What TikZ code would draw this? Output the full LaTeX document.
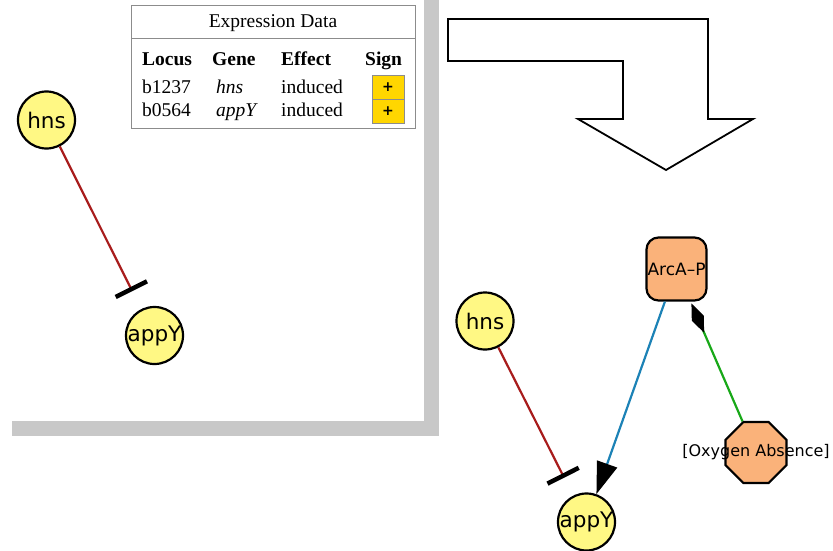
\documentclass[tikz,border=0pt]{standalone}
\usepackage{fontspec}
\setmainfont{Liberation Serif}
\newfontfamily\netfont{DejaVu Sans}
\usetikzlibrary{shapes.geometric, arrows.meta, positioning}
\definecolor{geneyellow}{RGB}{255,248,132}
\definecolor{complexorange}{RGB}{250,178,122}
\definecolor{signgold}{RGB}{255,214,0}
\definecolor{framegray}{RGB}{200,200,200}
\definecolor{repred}{RGB}{168,28,28}
\definecolor{actblue}{RGB}{28,130,182}
\definecolor{bindgreen}{RGB}{24,168,24}
\tikzset{
	gene/.style={circle, draw=black, line width=2.2pt, fill=geneyellow, minimum size=57pt, inner sep=0pt},
	complex/.style={rectangle, rounded corners=12pt, draw=black, line width=2.2pt, fill=complexorange, minimum width=60pt, minimum height=63pt, inner sep=0pt},
	signal/.style={regular polygon, regular polygon sides=8, draw=black, line width=2.2pt, fill=complexorange, minimum size=66pt, inner sep=0pt},
	repress/.style={draw=repred, line width=2.2pt, -{Bar[black, width=35pt, line width=4.5pt]}, shorten >=20pt},
	activate/.style={draw=actblue, line width=2.2pt, -{Triangle[black, length=32pt, width=21pt]}},
	bind/.style={draw=bindgreen, line width=2.2pt, -{Diamond[black, length=32pt, width=13pt]}, shorten >=2pt},
	cell/.style={anchor=base west, inner sep=0pt, font=\fontsize{19.5}{19.5}\selectfont},
	signbox/.style={draw=black!45, fill=signgold, minimum width=32pt, minimum height=24pt, inner sep=0pt, font=\netfont\bfseries\fontsize{14}{14}\selectfont}
}
\newcommand{\genefont}{\netfont\fontsize{21.5}{21.5}\selectfont}

\begin{document}
\begin{tikzpicture}[x=1pt, y=-1pt]
	% IMAGE SIZE
	\useasboundingbox (0,0) rectangle (833,551);
	
	% Gray frame
	\fill[framegray] (424,0) rectangle (439,436);
	\fill[framegray] (12,421) rectangle (439,436);
	
	% Expression table
	\draw[black!45, line width=0.9pt] (131,5) rectangle (415,128);
	\draw[black!45, line width=0.9pt] (131,38) -- (415,38);
	\node[cell, anchor=base] (title) at (273,28) {Expression Data};
	\node[cell] (hLocus) at (142,66) {\bfseries Locus};
	\node[cell] (hGene) at (212,66) {\bfseries Gene};
	\node[cell] (hEffect) at (281,66) {\bfseries Effect};
	\node[cell] (hSign) at (365,66) {\bfseries Sign};
	\foreach \loc/\gene/\y [count=\i] in {b1237/hns/93, b0564/appY/117}
	{
		\node[cell] (loc\i) at (142,\y) {\loc};
		\node[cell] (gene\i) at (216,\y) {\itshape \gene};
		\node[cell] (eff\i) at (281,\y) {induced};
		\node[signbox] (sign\i) at (388,\y-6) {+};
	}
	
	% Left network
	\node[gene, label={[font=\genefont]center:hns}] (hnsL) at (46.5,120) {};
	\node[gene, label={[font=\genefont]center:appY}] (appYL) at (154.5,335.5) {};
	\draw[repress] (hnsL) -- (appYL);
	
	%Block arrow
	\draw[line width=1.8pt, line join=miter] (448,19) -- (708,19) -- (708,119) -- (753,119) -- (666,170)
	-- (578,119) -- (623,119) -- (623,61) -- (448,61) -- cycle;
	
	% Right network
	\node[gene, label={[font=\genefont]center:hns}] (hnsR) at (485,321) {};
	\node[gene, label={[font=\genefont]center:appY}] (appYR) at (586.5,522) {};
	\node[complex, label={[font=\netfont\fontsize{17}{17}\selectfont]center:ArcA–P}] (arcA) at (676.5,269) {};
	\node[signal, label={[font=\netfont\fontsize{16}{16}\selectfont]center:{[Oxygen Absence]}}] (oxygen) at (756,452.5) {};
	\draw[repress] (hnsR) -- (appYR);
	\draw[activate] (arcA) -- (appYR);
	\draw[bind] (oxygen) -- (arcA);
\end{tikzpicture}
\end{document}
